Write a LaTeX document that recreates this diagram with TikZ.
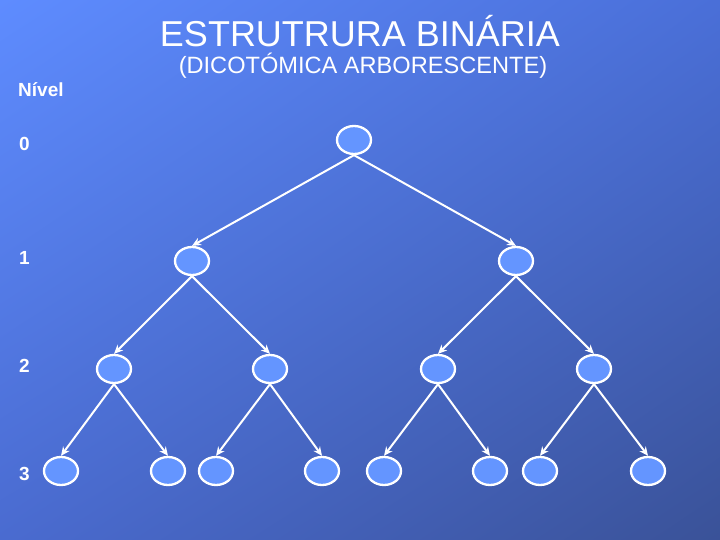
\documentclass[tikz,border=0pt]{standalone}
\usepackage{fontspec}
\setmainfont{Liberation Sans}
\usetikzlibrary{arrows.meta,shadings,shapes.geometric}
\definecolor{bgUL}{HTML}{5E8CFF}
\definecolor{bgUR}{HTML}{4A6FD8}
\definecolor{bgLL}{HTML}{4A6BD0}
\definecolor{bgLR}{HTML}{3A5298}
\definecolor{nodefill}{HTML}{6495FF}
\tikzset{
  treenode/.style={ellipse, draw=white, line width=2.3pt, fill=nodefill, minimum width=34pt, minimum height=28pt, inner sep=0pt},
  edge/.style={draw=white, line width=2pt, -{Stealth[length=9pt,width=8pt]}},
  lvl/.style={text=white, font=\fontsize{19}{22}\selectfont\bfseries, anchor=west, inner sep=0pt}
}
\begin{document}
\begin{tikzpicture}[x=1pt,y=-1pt]
\useasboundingbox (0,0) rectangle (720,540);
\shade[upper left=bgUL, upper right=bgUR, lower left=bgLL, lower right=bgLR] (0,0) rectangle (720,540);
\node[text=white, font=\fontsize{36}{40}\selectfont, inner sep=0pt] (title) at (360,31) {ESTRUTRURA BINÁRIA};
\node[text=white, font=\fontsize{23.6}{27}\selectfont, inner sep=0pt] (sub) at (363,66) {(DICOTÓMICA ARBORESCENTE)};
\node[lvl] (nivel) at (18,90) {Nível};
\node[lvl] (l0) at (19,144) {0};
\node[lvl] (l1) at (19,258) {1};
\node[lvl] (l2) at (19,366) {2};
\node[lvl] (l3) at (19,474) {3};
% level 0
\node[treenode] (a) at (354,140) {};
% level 1
\node[treenode] (b1) at (192,261) {};
\node[treenode] (b2) at (516,261) {};
% level 2
\node[treenode] (c1) at (114,369) {};
\node[treenode] (c2) at (270,369) {};
\node[treenode] (c3) at (438,369) {};
\node[treenode] (c4) at (594,369) {};
% level 3
\node[treenode] (d1) at (61,471) {};
\node[treenode] (d2) at (168,471) {};
\node[treenode] (d3) at (216,471) {};
\node[treenode] (d4) at (322,471) {};
\node[treenode] (d5) at (384,471) {};
\node[treenode] (d6) at (490,471) {};
\node[treenode] (d7) at (540,471) {};
\node[treenode] (d8) at (648,471) {};
\draw[edge] (a.south) -- (b1.north);
\draw[edge] (a.south) -- (b2.north);
\draw[edge] (b1.south) -- (c1.north);
\draw[edge] (b1.south) -- (c2.north);
\draw[edge] (b2.south) -- (c3.north);
\draw[edge] (b2.south) -- (c4.north);
\draw[edge] (c1.south) -- (d1.north);
\draw[edge] (c1.south) -- (d2.north);
\draw[edge] (c2.south) -- (d3.north);
\draw[edge] (c2.south) -- (d4.north);
\draw[edge] (c3.south) -- (d5.north);
\draw[edge] (c3.south) -- (d6.north);
\draw[edge] (c4.south) -- (d7.north);
\draw[edge] (c4.south) -- (d8.north);
\end{tikzpicture}
\end{document}
